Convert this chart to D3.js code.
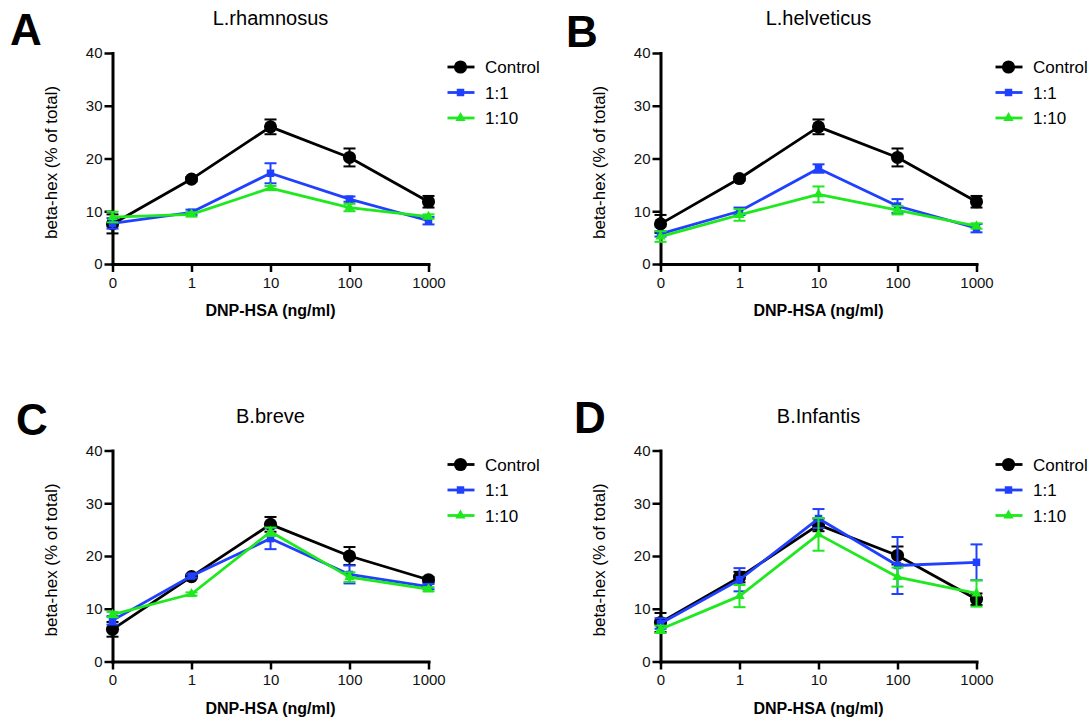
<!DOCTYPE html>
<html>
<head>
<meta charset="utf-8">
<script src="https://cdn.jsdelivr.net/npm/d3@7"></script>
<style>
  html, body { margin: 0; padding: 0; background: #fff; }
  svg { display: block; font-family: "Liberation Sans", Arial, Helvetica, sans-serif; }
</style>
</head>
<body>
<svg id="chart" width="1092" height="719"></svg>
<script>
// ---------- data ----------
const categories = ["0", "1", "10", "100", "1000"];
const seriesNames = ["Control", "1:1", "1:10"];
const yTicks = [0, 10, 20, 30, 40];
const panelLetters = ["A", "B", "C", "D"];
const panelTitles = ["L.rhamnosus", "L.helveticus", "B.breve", "B.Infantis"];
const xAxisTitle = "DNP-HSA (ng/ml)";
const yAxisTitle = "beta-hex (% of total)";

// Panel A – L.rhamnosus
const aControl    = [7.6, 16.1, 26.0, 20.2, 11.8];
const aControlErr = [1.8, 0.4, 1.4, 1.7, 1.1];
const a11         = [7.7, 9.8, 17.2, 12.3, 8.2];
const a11Err      = [1.0, 0.5, 1.9, 0.5, 0.7];
const a110        = [8.9, 9.4, 14.4, 10.7, 9.0];
const a110Err     = [1.0, 0.4, 0.4, 0.7, 0.4];

// Panel B – L.helveticus
const bControl    = [7.6, 16.2, 26.0, 20.2, 11.8];
const bControlErr = [1.7, 0.4, 1.4, 1.7, 1.1];
const b11         = [5.7, 10.0, 18.1, 11.0, 6.8];
const b11Err      = [0.5, 0.7, 0.8, 1.3, 0.8];
const b110        = [5.2, 9.3, 13.2, 10.2, 7.2];
const b110Err     = [1.0, 1.1, 1.5, 0.8, 0.5];

// Panel C – B.breve
const cControl    = [6.1, 16.1, 26.0, 20.0, 15.5];
const cControlErr = [1.4, 0.3, 1.4, 1.7, 0.5];
const c11         = [7.8, 16.2, 23.3, 16.5, 14.2];
const c11Err      = [0.8, 0.3, 2.0, 1.7, 0.5];
const c110        = [8.9, 12.8, 24.6, 16.0, 13.7];
const c110Err     = [0.5, 0.3, 0.8, 0.9, 0.4];

// Panel D – B.Infantis
const dControl    = [7.4, 16.0, 25.9, 20.1, 11.8];
const dControlErr = [1.8, 1.0, 1.2, 1.7, 1.1];
const d11         = [7.2, 15.5, 27.1, 18.2, 18.8];
const d11Err      = [1.0, 2.2, 1.8, 5.4, 3.4];
const d110        = [6.1, 12.4, 24.1, 16.0, 12.9];
const d110Err     = [0.7, 2.1, 3.1, 1.8, 2.5];

const panelValues = [
  [[aControl, aControlErr], [a11, a11Err], [a110, a110Err]],
  [[bControl, bControlErr], [b11, b11Err], [b110, b110Err]],
  [[cControl, cControlErr], [c11, c11Err], [c110, c110Err]],
  [[dControl, dControlErr], [d11, d11Err], [d110, d110Err]]
];

// ---------- styles / layout ----------
const colors = ["#000000", "#2040ff", "#1ee81e"];
const symbols = [d3.symbolCircle, d3.symbolSquare, d3.symbolTriangle];
const symSizes = [135, 56, 45];

const panels = [
  { x0: 112.5, x1: 428.5, y0: 264, y1: 53,   letterX: 10,  letterY: 45 },
  { x0: 660.5, x1: 976.5, y0: 264, y1: 53,   letterX: 566, letterY: 47 },
  { x0: 112.5, x1: 428.5, y0: 661.5, y1: 450.5, letterX: 16,  letterY: 435 },
  { x0: 660.5, x1: 976.5, y0: 661.5, y1: 450.5, letterX: 574, letterY: 433 }
];

const svg = d3.select("#chart");

panels.forEach((p, pi) => {
  const g = svg.append("g");
  const x = d3.scalePoint().domain(categories).range([p.x0, p.x1]).padding(0);
  const y = d3.scaleLinear().domain([0, 40]).range([p.y0, p.y1]);
  const midX = (p.x0 + p.x1) / 2;

  // panel letter
  g.append("text")
    .attr("x", p.letterX).attr("y", p.letterY)
    .attr("font-size", 44).attr("font-weight", "bold")
    .text(panelLetters[pi]);

  // title
  g.append("text")
    .attr("x", midX).attr("y", p.y1 - 28)
    .attr("text-anchor", "middle")
    .attr("font-size", 20)
    .text(panelTitles[pi]);

  // axes
  const yAxis = g.append("g")
    .attr("transform", `translate(${p.x0},0)`)
    .call(d3.axisLeft(y).tickValues(yTicks).tickSize(8).tickSizeOuter(0).tickPadding(2));
  const xAxis = g.append("g")
    .attr("transform", `translate(0,${p.y0})`)
    .call(d3.axisBottom(x).tickSize(8).tickSizeOuter(0).tickPadding(5));
  [yAxis, xAxis].forEach(ax => {
    ax.select(".domain").attr("stroke", "#000").attr("stroke-width", 3).attr("stroke-linecap", "square");
    ax.selectAll(".tick line").attr("stroke", "#000").attr("stroke-width", 2.5);
    ax.selectAll(".tick text").attr("font-size", 15).attr("fill", "#111")
      .attr("font-family", "Liberation Sans, Arial, sans-serif");
  });

  // axis titles
  g.append("text")
    .attr("x", midX).attr("y", p.y0 + 52)
    .attr("text-anchor", "middle")
    .attr("font-size", 16).attr("font-weight", "bold")
    .text(xAxisTitle);
  g.append("text")
    .attr("transform", `translate(${p.x0 - 56},${(p.y0 + p.y1) / 2 + 4}) rotate(-90)`)
    .attr("text-anchor", "middle")
    .attr("font-size", 17)
    .text(yAxisTitle);

  // series
  const line = d3.line().x(d => x(d.c)).y(d => y(d.v));
  panelValues[pi].forEach((sv, si) => {
    const [vals, errs] = sv;
    const pts = categories.map((c, i) => ({ c, v: vals[i], e: errs[i] }));
    const sg = g.append("g");
    sg.append("path").datum(pts)
      .attr("d", line).attr("fill", "none")
      .attr("stroke", colors[si]).attr("stroke-width", 2.8)
      .attr("stroke-linejoin", "round");
    const eb = sg.selectAll(".eb").data(pts).enter().append("g")
      .attr("stroke", colors[si]).attr("stroke-width", 2);
    eb.append("line")
      .attr("x1", d => x(d.c)).attr("x2", d => x(d.c))
      .attr("y1", d => y(d.v - d.e)).attr("y2", d => y(d.v + d.e));
    eb.append("line")
      .attr("x1", d => x(d.c) - 6).attr("x2", d => x(d.c) + 6)
      .attr("y1", d => y(d.v + d.e)).attr("y2", d => y(d.v + d.e));
    eb.append("line")
      .attr("x1", d => x(d.c) - 6).attr("x2", d => x(d.c) + 6)
      .attr("y1", d => y(d.v - d.e)).attr("y2", d => y(d.v - d.e));
    sg.selectAll(".mk").data(pts).enter().append("path")
      .attr("transform", d => `translate(${x(d.c)},${y(d.v)})`)
      .attr("d", d3.symbol().type(symbols[si]).size(symSizes[si]))
      .attr("fill", colors[si]);
  });

  // legend
  const legY = [14, 39.5, 65];
  seriesNames.forEach((name, si) => {
    const ly = p.y1 + legY[si];
    const lx = p.x0 + 348;
    g.append("line")
      .attr("x1", lx - 13).attr("x2", lx + 14)
      .attr("y1", ly).attr("y2", ly)
      .attr("stroke", colors[si]).attr("stroke-width", 2.8);
    g.append("path")
      .attr("transform", `translate(${lx},${ly})`)
      .attr("d", d3.symbol().type(symbols[si]).size(symSizes[si]))
      .attr("fill", colors[si]);
    g.append("text")
      .attr("x", p.x0 + 372.5).attr("y", ly)
      .attr("dy", "0.36em")
      .attr("font-size", 17)
      .text(name);
  });
});
</script>
</body>
</html>
